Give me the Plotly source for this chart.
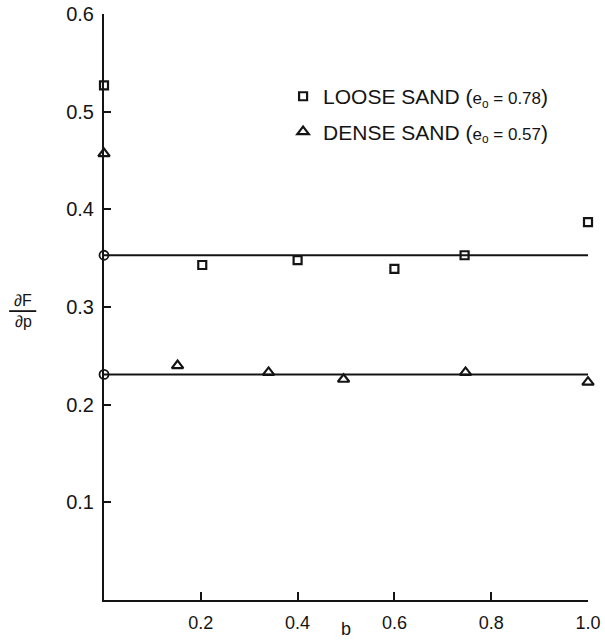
import plotly.graph_objects as go

# Data
loose_b = [0.0, 0.203, 0.40, 0.60, 0.745, 1.0]
loose_v = [0.527, 0.343, 0.348, 0.339, 0.353, 0.387]
dense_b = [0.0, 0.152, 0.34, 0.495, 0.747, 1.0]
dense_v = [0.457, 0.240, 0.233, 0.226, 0.233, 0.223]
fit_b = [0.0, 1.005]
loose_fit = 0.353
dense_fit = 0.231
xtick_vals = [0.2, 0.4, 0.6, 0.8, 1.0]
xtick_text = ["0.2", "0.4", "0.6", "0.8", "1.0"]
ytick_vals = [0.1, 0.2, 0.3, 0.4, 0.5, 0.6]
ytick_text = ["0.1", "0.2", "0.3", "0.4", "0.5", "0.6"]

INK = "#141414"
FONT = "Liberation Sans, Arial, sans-serif"

fig = go.Figure()

# fitted lines
for val in (loose_fit, dense_fit):
    fig.add_trace(go.Scatter(
        x=fit_b, y=[val, val], mode="lines",
        line=dict(color=INK, width=2), showlegend=False, cliponaxis=False,
        hoverinfo="skip"))
    fig.add_trace(go.Scatter(
        x=[fit_b[0]], y=[val], mode="markers",
        marker=dict(symbol="circle-open", size=9, color=INK, line=dict(width=1.8)),
        showlegend=False, cliponaxis=False, hoverinfo="skip"))

PAREN = "<span style='font-size:17px'>e<sub>o</sub> = 0.{}</span>"
fig.add_trace(go.Scatter(
    x=loose_b, y=loose_v, mode="markers",
    name="LOOSE SAND (" + PAREN.format("78") + ")",
    legendgroup="a",
    marker=dict(symbol="square-open", size=8, color=INK, line=dict(width=2.2)),
    cliponaxis=False))
fig.add_trace(go.Scatter(
    x=dense_b, y=dense_v, mode="markers",
    name="DENSE SAND (" + PAREN.format("57") + ")",
    legendgroup="b",
    marker=dict(symbol="triangle-up-open", size=10, color=INK, line=dict(width=2.2)),
    cliponaxis=False))

fig.update_layout(
    width=605, height=641,
    margin=dict(l=104, r=17, t=14, b=41, autoexpand=False),
    paper_bgcolor="white", plot_bgcolor="white",
    font=dict(family=FONT, color=INK, size=18),
    showlegend=True,
    legend=dict(x=0.37, y=0.894, xanchor="left", yanchor="top",
                font=dict(size=21, family=FONT, color=INK),
                bgcolor="rgba(0,0,0,0)", tracegroupgap=5, itemsizing="trace"),
    xaxis=dict(range=[0, 1.0], showgrid=False, zeroline=False, automargin=False,
               showline=True, linecolor=INK, linewidth=2,
               ticks="inside", ticklen=8, tickwidth=1.8, tickcolor=INK,
               tickvals=xtick_vals, ticktext=xtick_text,
               tickfont=dict(size=18), ticklabelstandoff=5),
    yaxis=dict(range=[0, 0.6], showgrid=False, zeroline=False, automargin=False,
               showline=True, linecolor=INK, linewidth=2,
               ticks="inside", ticklen=7, tickwidth=1.8, tickcolor=INK,
               tickvals=ytick_vals, ticktext=ytick_text,
               tickfont=dict(size=20), ticklabelstandoff=4),
)

# axis titles
fig.add_annotation(text="b", xref="paper", yref="paper", x=0.5, y=0,
                   xanchor="center", yanchor="top", yshift=-17,
                   showarrow=False, font=dict(size=18, family=FONT, color=INK))
fig.add_annotation(text="∂F", xref="paper", yref="paper", x=0, y=0.493,
                   xshift=-81, xanchor="center", yanchor="bottom",
                   showarrow=False, font=dict(size=16, family=FONT, color=INK))
fig.add_annotation(text="∂p", xref="paper", yref="paper", x=0, y=0.493,
                   xshift=-81, xanchor="center", yanchor="top",
                   showarrow=False, font=dict(size=16, family=FONT, color=INK))
fig.add_shape(type="line", xref="paper", yref="paper",
              x0=-0.196, x1=-0.140, y0=0.493, y1=0.493,
              line=dict(color=INK, width=1.8))

fig.write_html("out.html")
